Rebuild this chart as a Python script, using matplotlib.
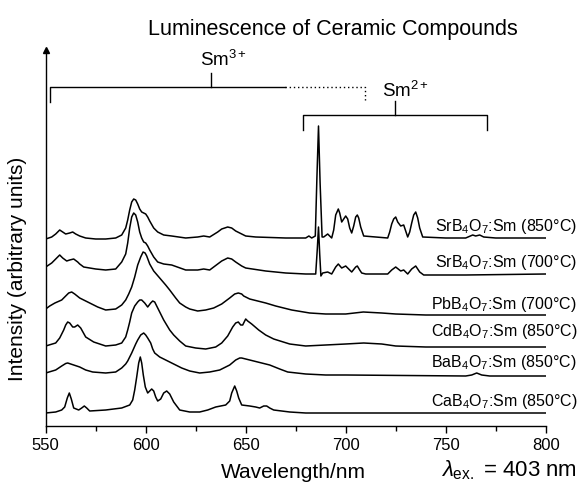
import numpy as np
import matplotlib
matplotlib.use('Agg')
import matplotlib.pyplot as plt
from matplotlib.transforms import blended_transform_factory

plt.rcParams['font.family'] = ['Liberation Sans', 'DejaVu Sans']
plt.rcParams['mathtext.fontset'] = 'custom'
plt.rcParams['mathtext.rm'] = 'Liberation Sans'
plt.rcParams['mathtext.it'] = 'Liberation Sans:italic'
plt.rcParams['mathtext.bf'] = 'Liberation Sans:bold'

# Spectra: (wavelength nm, intensity in arbitrary units)
srb850 = [(550, -1), (553, 1), (555, 4), (557, 8), (558.5, 6), (560, 4), (562, 5), (563.5, 6), (565, 4), (567, 2),
          (570, 0), (575, -1), (580, -1), (585, 0), (588, 3), (590, 10), (591, 18), (592, 28), (593, 36), (594, 39),
          (595, 38), (596, 34), (597, 29), (598, 26), (599, 25), (600, 24), (601, 21), (602, 17), (604, 10), (606, 6),
          (609, 3), (613, 2), (620, 0), (626, 1), (629, 2), (632, 1), (636, 6), (638, 9), (641, 11), (643, 10),
          (645, 7), (648, 4), (650, 2), (655, 1), (670, 0), (680, 0), (681.6, 2), (683, 0), (684.8, 2), (685.6, 60),
          (686.4, 112), (687.2, 55), (688.2, 1), (689, 1), (691, 4), (693, 0), (694, 8), (695, 23), (696.3, 29), (697, 25),
          (698, 16), (699, 19), (700, 22), (701, 19), (702, 10), (703, 5), (704, 12), (705, 21), (705.8, 23), (706.5, 20),
          (707.5, 11), (709, 2), (721, 0), (722, 6), (723, 14), (724, 19), (725, 21), (726, 16), (727.5, 12), (729, 13),
          (730, 7), (731, 1), (732, 6), (733, 15), (734, 23), (735, 26), (736, 20), (737, 10), (738.5, 1), (750, 0),
          (760, 0), (763.5, 3), (765, 2), (767, 3), (769, 1), (775, 0), (800, 0)]

srb700 = [(550, 7), (553, 11), (555, 15), (557, 19), (558.5, 16), (560.5, 13), (562, 14), (564, 15), (566, 12), (567, 10),
          (569, 7), (575, 5), (580, 4), (585, 5), (588, 12), (590, 20), (591, 31), (592, 46), (593, 57), (594, 61),
          (595, 59), (596, 52), (597, 42), (598, 36), (599, 32), (600, 31), (601, 28), (602, 24), (604, 17), (606, 12),
          (609, 10), (613, 9), (620, 4), (626, 4), (629, 5), (632, 4), (636, 10), (638, 13), (641, 16), (643, 15),
          (645, 12), (648, 8), (650, 6), (660, 3), (670, 1), (680, 0), (685, 0), (685.8, 25), (686.4, 47), (687, 20),
          (687.6, -2), (688.5, 1), (691, 2), (693, 0), (695, 7), (696.3, 10), (698, 6), (700, 8), (701.5, 5), (703, 2),
          (705, 7), (705.8, 8), (707, 4), (708, 1), (710, 0), (721, 0), (723, 4), (725, 7), (727.5, 3), (729, 4),
          (731, 0), (733, 5), (735, 8), (737, 2), (739, -1), (760, -1), (800, 0)]

pbb700 = [(550, 6), (552, 9), (554.6, 12), (558, 15), (560, 19), (561.5, 22), (563, 23), (564.5, 21), (567, 17), (570, 14),
          (572, 12), (576, 8), (580, 5), (585, 6), (588, 10), (590, 15), (591.5, 21), (593, 28), (594.5, 38), (596, 50),
          (597.5, 58), (598.7, 63), (599.7, 62), (600.5, 59), (602, 51), (604, 44), (607, 37), (610, 30), (612, 25), (615, 17),
          (617, 12), (620, 8), (622, 6), (626, 4), (630, 5), (634, 7), (638, 11), (642, 17), (644.5, 21), (646.3, 22),
          (648, 21), (649, 19), (652, 16), (656, 14), (660, 12), (665, 9), (673, 5), (682, 2), (690, 1), (700, 1),
          (708.8, 3), (718, 2), (725, 1), (740, 0), (800, 0)]

cdb850 = [(550, 1), (555, 4), (557, 9), (559, 17), (560, 22), (561, 25), (562, 24), (563.5, 20), (564.5, 20), (566, 22),
          (567.5, 19), (570, 10), (574, 5), (580, 1), (585, 2), (588, 4), (590, 10), (591, 17), (592, 25), (593, 34),
          (594.5, 41), (596, 45), (597, 47), (598, 47), (599.5, 44), (601, 40), (602.5, 44), (603.5, 46), (604.5, 45), (606, 39),
          (607.5, 33), (609, 27), (612, 17), (614, 12), (617, 6), (620, 1), (625, -1), (630, -2), (635, 0), (638, 4),
          (641, 11), (643.5, 20), (645, 24), (646.3, 25), (647.5, 22), (648.5, 22), (650, 28), (651, 26), (653, 23), (656.5, 17),
          (660, 12), (664, 8), (672, 3), (680, 1), (690, 2), (700, 3), (709, 4), (718, 3), (725, 1), (740, 0),
          (800, 0)]

bab850 = [(550, 3), (555, 6), (558, 10), (560, 12.5), (561, 13), (562.5, 12), (564, 11), (567, 9), (570, 6), (573.5, 4),
          (580, 3), (585, 4), (588, 8), (590, 12), (591, 15), (593, 23), (595, 32), (596, 36), (597.5, 41), (599, 43),
          (600, 41), (601, 38), (602.5, 33), (603.5, 27), (604.5, 23), (607, 19), (610, 16), (614, 12), (618, 8), (622, 5),
          (627, 3), (632, 4), (637, 6), (642, 11), (645, 16), (647, 18), (648, 18), (650, 17), (652, 16), (656, 14),
          (662, 11), (667, 7), (671, 4), (680, 2), (690, 1), (700, 1), (760, 0), (763, 1), (765.5, 3), (768, 1),
          (772, 0), (800, 0)]

cab850 = [(550, 0), (555, 1), (558, 3), (559.5, 6), (560.8, 15), (561.8, 20), (562.8, 14), (564, 5), (566.5, 3), (568, 5),
          (569.3, 7), (570.5, 5), (572, 2), (580, 3), (588, 5), (592, 8), (593.5, 13), (594.5, 23), (595.5, 36), (596.5, 50),
          (597.3, 56), (598, 50), (598.8, 38), (599.8, 26), (601, 20), (602, 22), (603, 24), (604, 22), (605, 16), (606, 12),
          (607.5, 14), (609, 20), (610.5, 22), (612, 19), (613, 15), (614, 11), (617, 3), (622, 1), (627, 1), (631, 3),
          (635, 6), (640, 8), (642, 12), (643, 20), (644.5, 27), (645.5, 22), (646.5, 15), (648, 8), (652, 7), (655, 6),
          (657, 5), (659, 7), (660.5, 7), (662, 5), (664, 3), (672, 1), (680, 0), (800, 0)]

sample_labels = ['SrB$_4$O$_7$:Sm (850°C)', 'SrB$_4$O$_7$:Sm (700°C)', 'PbB$_4$O$_7$:Sm (700°C)',
                 'CdB$_4$O$_7$:Sm (850°C)', 'BaB$_4$O$_7$:Sm (850°C)', 'CaB$_4$O$_7$:Sm (850°C)']
spectra = [srb850, srb700, pbb700, cdb850, bab850, cab850]

# vertical stacking of the curves and label baselines
offsets = [188, 152, 111, 79, 50, 13]
label_y = [195, 159, 117, 90, 59, 20]

fig = plt.figure(figsize=(5.79, 4.83), dpi=100)
ax = fig.add_axes([45.7 / 579, 57 / 483, 500 / 579, 376 / 483])

for spec, off in zip(spectra, offsets):
    nm, inten = np.array(spec).T
    ax.plot(nm, inten + off, color='black', lw=1.1, solid_joinstyle='round')

ax.set_xlim(550, 800)
ax.set_ylim(0, 376)
ax.spines['top'].set_visible(False)
ax.spines['right'].set_visible(False)
ax.spines['left'].set_linewidth(1.0)
ax.spines['bottom'].set_linewidth(1.0)
ax.set_yticks([])
ax.set_xticks(np.arange(550, 801, 50))
ax.set_xticks(np.arange(575, 800, 50), minor=True)
ax.tick_params(axis='x', which='major', direction='out', length=5, width=1, labelsize=12)
ax.tick_params(axis='x', which='minor', direction='out', length=3.5, width=1)
# arrow head on the intensity axis
ax.plot(0, 1, marker='^', color='black', markersize=5, transform=ax.transAxes, clip_on=False)

ax.set_xlabel('Wavelength/nm', fontsize=15, va='baseline')
ax.xaxis.set_label_coords(0.4946, -0.1383)
ax.set_ylabel('Intensity (arbitrary units)', fontsize=15, va='center')
ax.yaxis.set_label_coords(-0.0554, 0.4176)

fig.text(333 / 579, 1 - 35 / 483, 'Luminescence of Ceramic Compounds', fontsize=15.5, ha='center', va='baseline')
fig.text(577 / 579, 1 - 476 / 483, r'$\lambda_{\mathrm{ex.}}$ = 403 nm', fontsize=16, ha='right', va='baseline')

trans = blended_transform_factory(fig.transFigure, ax.transData)
for lab, y in zip(sample_labels, label_y):
    ax.text(577 / 579, y, lab, transform=trans, fontsize=11.5, ha='right', va='baseline')

# Sm3+ bracket (solid part, then dotted continuation)
kw = dict(color='black', lw=1.0, clip_on=False)
ax.plot([552.2, 552.2, 669.7], [324, 339, 339], **kw)
ax.plot([632.5, 632.5], [339, 353], **kw)
ax.plot([669.7, 709.7, 709.7], [339, 339, 326], color='black', lw=1.0, ls=(0, (1, 2)), clip_on=False)
ax.text(627, 360, 'Sm$^{3+}$', fontsize=13.5, ha='left', va='baseline')

# Sm2+ bracket
ax.plot([678.7, 678.7, 770.7, 770.7], [296, 311, 311, 296], **kw)
ax.plot([724.7, 724.7], [311, 325], **kw)
ax.text(718, 329, 'Sm$^{2+}$', fontsize=13.5, ha='left', va='baseline')

fig.savefig('out.png', dpi=100)
